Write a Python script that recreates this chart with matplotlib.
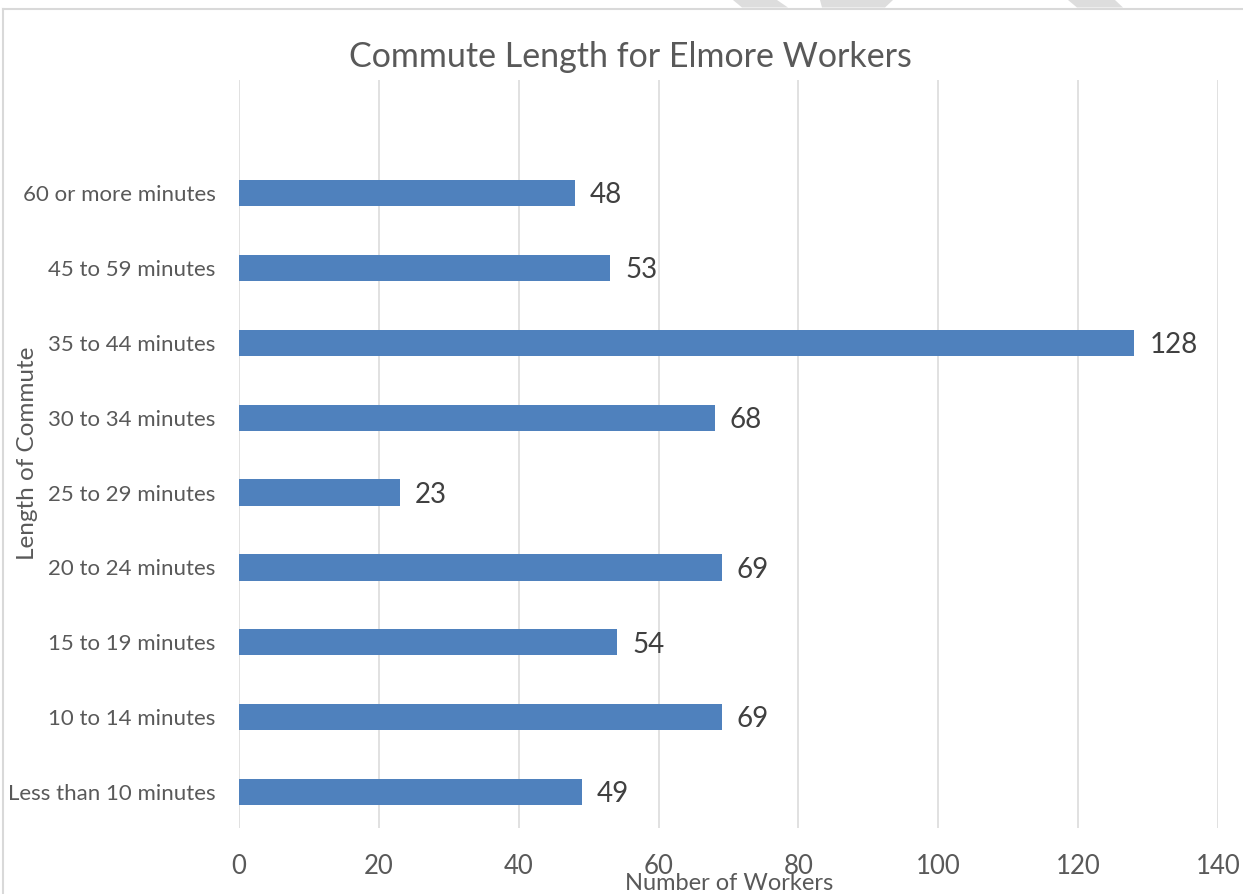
import matplotlib
matplotlib.use("Agg")
import matplotlib.pyplot as plt
from matplotlib.patches import Polygon
from matplotlib.lines import Line2D

plt.rcParams['font.family'] = ['Lato', 'DejaVu Sans']

# data, bottom to top as in the chart
categories = ['Less than 10 minutes', '10 to 14 minutes', '15 to 19 minutes',
              '20 to 24 minutes', '25 to 29 minutes', '30 to 34 minutes',
              '35 to 44 minutes', '45 to 59 minutes', '60 or more minutes']
workers = [49, 69, 54, 69, 23, 68, 128, 53, 48]
x_ticks = [0, 20, 40, 60, 80, 100, 120, 140]

W, H = 1243, 894
fig = plt.figure(figsize=(W / 100, H / 100), dpi=100)

# chart frame (left and top edges visible) and watermark bits at the top
fig.add_artist(Line2D([3 / W, 3 / W], [0, 1 - 9 / H], color='#D9D9D9', lw=1.5))
fig.add_artist(Line2D([3 / W, 1], [1 - 9 / H, 1 - 9 / H], color='#D9D9D9', lw=1.5))
for xs in [(733, 777, 788, 742), (820, 893, 885, 822), (1068, 1115, 1123, 1077)]:
    pts = [(xs[0] / W, 1), (xs[1] / W, 1), (xs[2] / W, 1 - 7.5 / H), (xs[3] / W, 1 - 7.5 / H)]
    fig.add_artist(Polygon(pts, closed=True, transform=fig.transFigure,
                           facecolor='#DDDDDD', edgecolor='none'))

ax = fig.add_axes([239 / W, 1 - 828 / H, (1218 - 239) / W, (828 - 80) / H])

ypos = list(range(len(categories)))
bars = ax.barh(ypos, workers, height=0.35, color='#4F81BD', zorder=3)
for b, v in zip(bars, workers):
    ax.text(b.get_width() + 2.2, b.get_y() + b.get_height() / 2 - 0.03, str(v),
            va='center', ha='left', fontsize=20, color='#404040')

ax.set_xlim(0, 140)
ax.set_ylim(-0.48, 9.51)
ax.set_xticks(x_ticks)
ax.set_yticks(ypos)
ax.set_yticklabels(categories)
ax.xaxis.grid(True, color='#D9D9D9', lw=1.1, zorder=0)
ax.set_axisbelow(True)
for s in ax.spines.values():
    s.set_visible(False)
ax.tick_params(axis='x', length=0, pad=19, labelsize=18.5, labelcolor='#595959')
ax.tick_params(axis='y', length=0, pad=17, labelsize=16, labelcolor='#595959')

fig.text(630 / W, 1 - 57 / H, 'Commute Length for Elmore Workers', ha='center',
         va='center', fontsize=24.5, color='#595959')
fig.text(729 / W, 1 - 884 / H, 'Number of Workers', ha='center', va='center',
         fontsize=17, color='#595959')
fig.text(28 / W, 1 - 453 / H, 'Length of Commute', ha='center', va='center',
         rotation=90, fontsize=17.5, color='#595959')

fig.savefig('out.png', dpi=100)
